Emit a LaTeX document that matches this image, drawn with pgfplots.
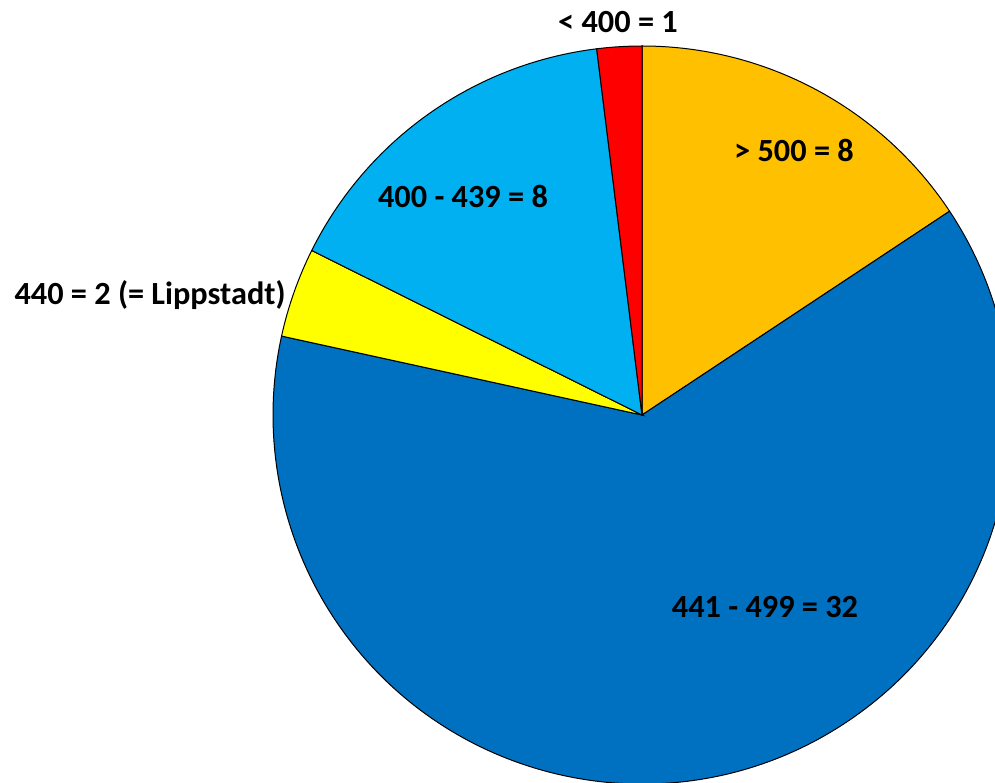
\documentclass[border=0pt]{standalone}
\usepackage{pgfplots}
\pgfplotsset{compat=1.18}
\usepackage{pgfplotstable}
\usepackage{fontspec}
\setmainfont{Carlito}
\definecolor{cOrange}{HTML}{FFC000}
\definecolor{cDark}{HTML}{0070C0}
\definecolor{cYellow}{HTML}{FFFF00}
\definecolor{cLight}{HTML}{00B0F0}
\definecolor{cRed}{HTML}{FF0000}
\pgfplotstableread{
label value
gt500 8
r441to499 32
r440 2
r400to439 8
lt400 1
}\piedata
\begin{document}
\begin{tikzpicture}
\pgfplotstablegetelem{0}{value}\of\piedata \let\vA\pgfplotsretval
\pgfplotstablegetelem{1}{value}\of\piedata \let\vB\pgfplotsretval
\pgfplotstablegetelem{2}{value}\of\piedata \let\vC\pgfplotsretval
\pgfplotstablegetelem{3}{value}\of\piedata \let\vD\pgfplotsretval
\pgfplotstablegetelem{4}{value}\of\piedata \let\vE\pgfplotsretval
\pgfmathsetmacro\total{\vA+\vB+\vC+\vD+\vE}
\pgfmathsetmacro\aA{90}
\pgfmathsetmacro\aB{\aA-360*\vA/\total}
\pgfmathsetmacro\aC{\aB-360*\vB/\total}
\pgfmathsetmacro\aD{\aC-360*\vC/\total}
\pgfmathsetmacro\aE{\aD-360*\vD/\total}
\pgfmathsetmacro\aF{\aE-360*\vE/\total}
\def\R{369pt}
\begin{axis}[x=1pt,y=1pt,xmin=0,xmax=995,ymin=0,ymax=782,
  hide axis, scale only axis, clip=true, anchor=south west, at={(0,0)}]
\filldraw[fill=cOrange,draw=black,line width=1pt] (axis cs:642,367) -- ++(\aA:\R) arc[start angle=\aA,end angle=\aB,radius=\R] -- cycle;
\filldraw[fill=cDark,draw=black,line width=1pt] (axis cs:642,367) -- ++(\aB:\R) arc[start angle=\aB,end angle=\aC,radius=\R] -- cycle;
\filldraw[fill=cYellow,draw=black,line width=1pt] (axis cs:642,367) -- ++(\aC:\R) arc[start angle=\aC,end angle=\aD,radius=\R] -- cycle;
\filldraw[fill=cLight,draw=black,line width=1pt] (axis cs:642,367) -- ++(\aD:\R) arc[start angle=\aD,end angle=\aE,radius=\R] -- cycle;
\filldraw[fill=cRed,draw=black,line width=1pt] (axis cs:642,367) -- ++(\aE:\R) arc[start angle=\aE,end angle=\aF,radius=\R] -- cycle;
\begin{scope}[every node/.style={font=\fontsize{32.3}{38}\selectfont\bfseries, anchor=base, inner sep=0pt}]
\node at (axis cs:618,749) {< 400 = 1};
\node at (axis cs:794,620) {> 500 = 8};
\node at (axis cs:463,574) {400 - 439 = 8};
\node at (axis cs:150,477) {440 = 2 (= Lippstadt)};
\node at (axis cs:765,165) {441 - 499 = 32};
\end{scope}
\end{axis}
\pgfresetboundingbox
\path[use as bounding box] (current axis.south west) rectangle (current axis.north east);
\end{tikzpicture}
\end{document}
